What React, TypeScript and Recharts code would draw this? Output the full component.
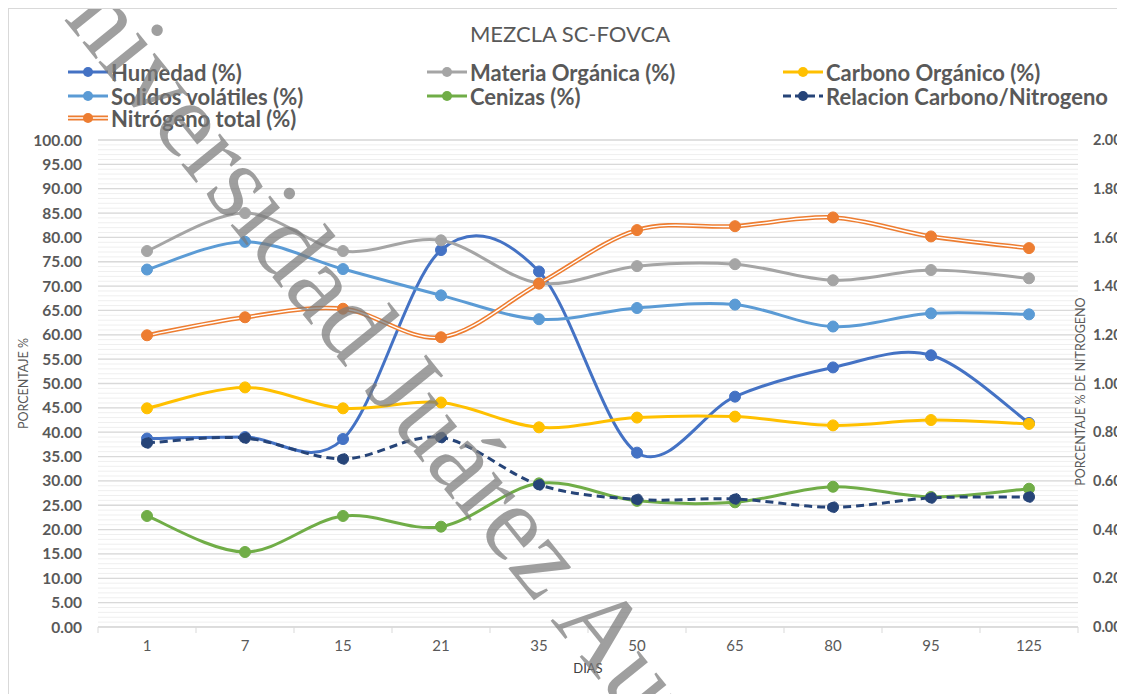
import React from "react";
import { LineChart, Line, XAxis, YAxis, CartesianGrid } from "recharts";

const DIAS = ["1", "7", "15", "21", "35", "50", "65", "80", "95", "125"];
const HUMEDAD = [38.7, 39.0, 38.6, 77.4, 73.0, 35.8, 47.3, 53.3, 55.8, 41.9];
const MATERIA = [77.2, 85.0, 77.2, 79.4, 70.6, 74.1, 74.5, 71.2, 73.3, 71.6];
const CARBONO = [44.9, 49.2, 44.9, 46.1, 41.0, 43.0, 43.2, 41.4, 42.5, 41.7];
const SOLIDOS = [73.4, 79.1, 73.5, 68.1, 63.2, 65.5, 66.2, 61.7, 64.4, 64.2];
const CENIZAS = [22.8, 15.4, 22.8, 20.6, 29.5, 25.9, 25.6, 28.8, 26.7, 28.4];
const RELACION = [37.8, 38.8, 34.5, 38.9, 29.2, 26.2, 26.3, 24.6, 26.5, 26.7];
const NITROGENO = [1.198, 1.272, 1.307, 1.19, 1.41, 1.63, 1.646, 1.682, 1.604, 1.556];

const LEFT_TICKS = [0, 5, 10, 15, 20, 25, 30, 35, 40, 45, 50, 55, 60, 65, 70, 75, 80, 85, 90, 95, 100];
const RIGHT_TICKS = [0, 0.2, 0.4, 0.6, 0.8, 1.0, 1.2, 1.4, 1.6, 1.8, 2.0];
const MINOR_LINES = Array.from({ length: 101 }, (_, i) => i);

const TITLE = "MEZCLA SC-FOVCA";
const WATERMARK = "Universidad Juárez Autónoma de Tabasco";

const data = DIAS.map((dia, i) => ({
  dia,
  humedad: HUMEDAD[i],
  materia: MATERIA[i],
  carbono: CARBONO[i],
  solidos: SOLIDOS[i],
  cenizas: CENIZAS[i],
  relacion: RELACION[i],
  nitrogeno: NITROGENO[i],
}));

const C = {
  humedad: "#4472C4",
  materia: "#A5A5A5",
  carbono: "#FFC000",
  solidos: "#5B9BD5",
  cenizas: "#70AD47",
  relacion: "#264478",
  nitrogeno: "#ED7D31",
};

const LEGEND = [
  { name: "Humedad (%)", color: C.humedad, kind: "solid" },
  { name: "Materia Orgánica (%)", color: C.materia, kind: "solid" },
  { name: "Carbono Orgánico (%)", color: C.carbono, kind: "solid" },
  { name: "Solidos volátiles (%)", color: C.solidos, kind: "solid" },
  { name: "Cenizas (%)", color: C.cenizas, kind: "solid" },
  { name: "Relacion Carbono/Nitrogeno", color: C.relacion, kind: "dash" },
  { name: "Nitrógeno total (%)", color: C.nitrogeno, kind: "double" },
];

const FONT = "Lato, 'Open Sans', sans-serif";
const TEXT = "#595959";
const HALF_BAND = 49;

// excel style smoothed line (catmull-rom through the points)
function excelSmooth(context: any) {
  let pts: number[][] = [];
  return {
    areaStart() {},
    areaEnd() {},
    lineStart() {
      pts = [];
    },
    point(x: number, y: number) {
      pts.push([+x, +y]);
    },
    lineEnd() {
      const n = pts.length;
      if (!n) return;
      context.moveTo(pts[0][0], pts[0][1]);
      for (let i = 0; i < n - 1; i++) {
        const p0 = pts[i - 1] || pts[i];
        const p1 = pts[i];
        const p2 = pts[i + 1];
        const p3 = pts[i + 2] || p2;
        context.bezierCurveTo(
          p1[0] + (p2[0] - p0[0]) / 6,
          p1[1] + (p2[1] - p0[1]) / 6,
          p2[0] - (p3[0] - p1[0]) / 6,
          p2[1] - (p3[1] - p1[1]) / 6,
          p2[0],
          p2[1]
        );
      }
    },
  };
}

function DiaTick(props: any) {
  const { x, y, payload, index, visibleTicksCount } = props;
  return (
    <g>
      <line x1={x - HALF_BAND} x2={x - HALF_BAND} y1={y} y2={y + 6} stroke="#d9d9d9" />
      {index === visibleTicksCount - 1 && (
        <line x1={x + HALF_BAND} x2={x + HALF_BAND} y1={y} y2={y + 6} stroke="#d9d9d9" />
      )}
      <text x={x} y={y + 24} textAnchor="middle" fill={TEXT} fontSize={15} fontFamily={FONT}>
        {payload.value}
      </text>
    </g>
  );
}

function VTitle(props: any) {
  const { viewBox, value, dx = 0, dy = 0 } = props;
  const cx = viewBox.x + dx;
  const cy = viewBox.y + viewBox.height / 2 + dy;
  return (
    <text
      x={cx}
      y={cy}
      transform={`rotate(-90 ${cx} ${cy})`}
      textAnchor="middle"
      dominantBaseline="central"
      fill={TEXT}
      fontSize={12.5}
      fontFamily={FONT}
    >
      {value}
    </text>
  );
}

function XTitle(props: any) {
  const { viewBox, value } = props;
  return (
    <text
      x={viewBox.x + viewBox.width / 2}
      y={659}
      textAnchor="middle"
      dominantBaseline="central"
      fill="#404040"
      fontSize={13}
      fontFamily={FONT}
    >
      {value}
    </text>
  );
}

function LegendIcon({ color, kind }: { color: string; kind: string }) {
  return (
    <svg width={40} height={14} style={{ display: "block" }}>
      {kind === "double" ? (
        <>
          <line x1={0} x2={40} y1={7} y2={7} stroke={color} strokeWidth={5} />
          <line x1={0} x2={40} y1={7} y2={7} stroke="#fff" strokeWidth={1.6} />
        </>
      ) : (
        <line
          x1={0}
          x2={40}
          y1={7}
          y2={7}
          stroke={color}
          strokeWidth={3}
          strokeDasharray={kind === "dash" ? "8 4" : undefined}
        />
      )}
      <circle cx={20} cy={7} r={5} fill={color} />
    </svg>
  );
}

const COL_X = [59, 418, 774];
const ROW_Y = [63, 87, 109];

export default function App() {
  const dot = (color: string) => ({ r: 5.5, fill: color, stroke: color, strokeWidth: 1 });
  return (
    <div
      style={{
        position: "relative",
        width: 1117,
        height: 686,
        borderTop: "1px solid #d9d9d9",
        borderLeft: "1px solid #d9d9d9",
        background: "#fff",
        overflow: "hidden",
        fontFamily: FONT,
      }}
    >
      <div
        style={{
          position: "absolute",
          top: 11,
          left: 0,
          width: 1122,
          textAlign: "center",
          fontSize: 22,
          color: TEXT,
        }}
      >
        {TITLE}
      </div>
      {LEGEND.map((item, i) => (
        <div
          key={item.name}
          style={{
            position: "absolute",
            left: COL_X[i % 3],
            top: ROW_Y[Math.floor(i / 3)] - 12,
            height: 24,
            display: "flex",
            alignItems: "center",
            gap: 3,
            fontSize: 22,
            fontWeight: 700,
            color: TEXT,
            whiteSpace: "nowrap",
          }}
        >
          <LegendIcon color={item.color} kind={item.kind} />
          <span>{item.name}</span>
        </div>
      ))}
      <LineChart
        width={1116}
        height={685}
        data={data}
        margin={{ top: 131, right: 0, left: 0, bottom: 27 }}
      >
        <CartesianGrid yAxisId="left" vertical={false} horizontalValues={MINOR_LINES} stroke="#efefef" />
        <CartesianGrid yAxisId="left" vertical={false} horizontalValues={LEFT_TICKS} stroke="#d9d9d9" strokeWidth={1.3} />
        <XAxis
          dataKey="dia"
          height={40}
          padding={{ left: HALF_BAND, right: HALF_BAND }}
          tickSize={0}
          tickMargin={0}
          tick={<DiaTick />}
          axisLine={{ stroke: "#d9d9d9" }}
          tickLine={false}
          interval={0}
          label={<XTitle value="DIAS" />}
        />
        <YAxis
          yAxisId="left"
          width={89}
          domain={[0, 100]}
          ticks={LEFT_TICKS}
          interval={0}
          tickFormatter={(v: number) => v.toFixed(2)}
          axisLine={false}
          tickLine={false}
          tickMargin={10}
          tick={{ fill: TEXT, fontSize: 15.5, fontWeight: 700, fontFamily: FONT }}
          label={<VTitle value="PORCENTAJE %" dx={14} />}
        />
        <YAxis
          yAxisId="right"
          orientation="right"
          width={47}
          domain={[0, 2]}
          ticks={RIGHT_TICKS}
          interval={0}
          tickFormatter={(v: number) => v.toFixed(2)}
          axisLine={false}
          tickLine={false}
          tickMargin={9}
          tick={{ fill: TEXT, fontSize: 14.5, fontWeight: 700, fontFamily: FONT, textAnchor: "start" }}
          label={<VTitle value="PORCENTAJE % DE NITROGENO" dx={2} dy={8} />}
        />
        <Line yAxisId="left" dataKey="humedad" name="Humedad (%)" type={excelSmooth as any} stroke={C.humedad} strokeWidth={3} dot={dot(C.humedad)} isAnimationActive={false} />
        <Line yAxisId="left" dataKey="materia" name="Materia Orgánica (%)" type={excelSmooth as any} stroke={C.materia} strokeWidth={3} dot={dot(C.materia)} isAnimationActive={false} />
        <Line yAxisId="left" dataKey="carbono" name="Carbono Orgánico (%)" type={excelSmooth as any} stroke={C.carbono} strokeWidth={3} dot={dot(C.carbono)} isAnimationActive={false} />
        <Line yAxisId="left" dataKey="solidos" name="Solidos volátiles (%)" type={excelSmooth as any} stroke={C.solidos} strokeWidth={3} dot={dot(C.solidos)} isAnimationActive={false} />
        <Line yAxisId="left" dataKey="cenizas" name="Cenizas (%)" type={excelSmooth as any} stroke={C.cenizas} strokeWidth={3} dot={dot(C.cenizas)} isAnimationActive={false} />
        <Line yAxisId="left" dataKey="relacion" name="Relacion Carbono/Nitrogeno" type={excelSmooth as any} stroke={C.relacion} strokeWidth={3} strokeDasharray="8 5" dot={dot(C.relacion)} isAnimationActive={false} />
        <Line yAxisId="right" dataKey="nitrogeno" name="Nitrógeno total (%)" type={excelSmooth as any} stroke={C.nitrogeno} strokeWidth={4.5} dot={false} isAnimationActive={false} />
        <Line yAxisId="right" dataKey="nitrogeno" legendType="none" type={excelSmooth as any} stroke="#ffffff" strokeWidth={1.4} dot={dot(C.nitrogeno)} isAnimationActive={false} />
      </LineChart>
      <svg
        width={1125}
        height={694}
        style={{ position: "absolute", left: -9, top: -9, pointerEvents: "none" }}
      >
        <text
          x={0}
          y={0}
          transform="translate(14,-42) rotate(51)"
          fontFamily="'Liberation Serif', 'DejaVu Serif', serif"
          fontSize={108}
          fill="#7a7a7a"
          fillOpacity={0.72}
        >
          {WATERMARK}
        </text>
      </svg>
    </div>
  );
}
